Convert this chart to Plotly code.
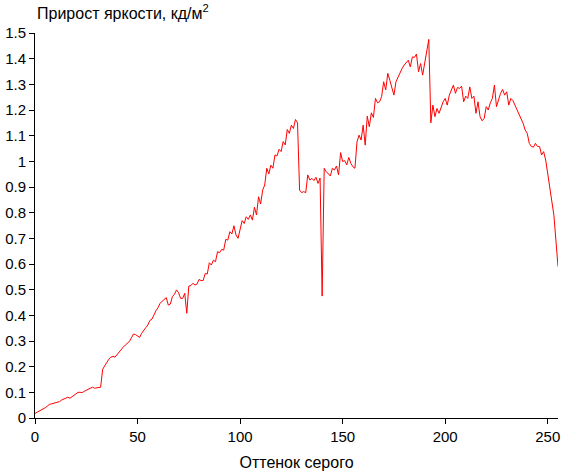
import plotly.graph_objects as go

gray_levels = list(range(256))
brightness_gain = [
    0.018, 0.022, 0.027, 0.031, 0.036, 0.040, 0.046, 0.053, 0.055, 0.057,
    0.060, 0.063, 0.064, 0.070, 0.074, 0.078, 0.081, 0.077, 0.083, 0.090,
    0.095, 0.100, 0.100, 0.099, 0.104, 0.108, 0.112, 0.116, 0.120, 0.116,
    0.117, 0.118, 0.120, 0.190, 0.205, 0.220, 0.229, 0.237, 0.240, 0.237,
    0.248, 0.258, 0.268, 0.276, 0.284, 0.292, 0.298, 0.312, 0.327, 0.325,
    0.320, 0.314, 0.330, 0.343, 0.352, 0.362, 0.380, 0.385, 0.405, 0.418,
    0.430, 0.447, 0.455, 0.462, 0.469, 0.440, 0.444, 0.473, 0.482, 0.499,
    0.488, 0.466, 0.466, 0.486, 0.408, 0.514, 0.516, 0.525, 0.518, 0.522,
    0.540, 0.535, 0.536, 0.563, 0.561, 0.605, 0.596, 0.615, 0.609, 0.648,
    0.644, 0.657, 0.654, 0.696, 0.693, 0.726, 0.717, 0.749, 0.713, 0.700,
    0.735, 0.769, 0.758, 0.784, 0.774, 0.791, 0.771, 0.821, 0.791, 0.862,
    0.834, 0.888, 0.908, 0.973, 0.951, 0.985, 0.973, 1.025, 1.021, 1.047,
    1.038, 1.077, 1.064, 1.124, 1.109, 1.141, 1.128, 1.163, 1.150, 0.888,
    0.878, 0.882, 0.878, 0.947, 0.927, 0.934, 0.925, 0.938, 0.914, 0.935,
    0.475, 0.973, 0.960, 0.953, 0.943, 0.973, 0.966, 0.982, 0.947, 1.034,
    0.999, 1.003, 0.986, 1.015, 0.992, 0.979, 0.973, 1.076, 1.102, 1.083,
    1.141, 1.063, 1.176, 1.135, 1.189, 1.171, 1.245, 1.228, 1.232, 1.252,
    1.310, 1.278, 1.343, 1.316, 1.290, 1.258, 1.310, 1.329, 1.343, 1.362,
    1.375, 1.384, 1.394, 1.368, 1.407, 1.405, 1.418, 1.349, 1.381, 1.336,
    1.381, 1.440, 1.475, 1.150, 1.219, 1.174, 1.206, 1.187, 1.210, 1.232,
    1.245, 1.219, 1.258, 1.280, 1.297, 1.265, 1.288, 1.284, 1.293, 1.232,
    1.254, 1.245, 1.290, 1.245, 1.254, 1.187, 1.232, 1.174, 1.158, 1.167,
    1.213, 1.200, 1.228, 1.245, 1.297, 1.213, 1.241, 1.265, 1.280, 1.258,
    1.271, 1.219, 1.245, 1.237, 1.219, 1.200, 1.187, 1.167, 1.148, 1.122,
    1.109, 1.070, 1.058, 1.055, 1.070, 1.058, 1.058, 1.025, 1.038, 1.005,
    0.955, 0.900, 0.845, 0.790, 0.690, 0.590,
]

x_tick_vals = [0, 50, 100, 150, 200, 250]
x_tick_text = ["0", "50", "100", "150", "200", "250"]
y_tick_vals = [0, 0.1, 0.2, 0.3, 0.4, 0.5, 0.6, 0.7, 0.8, 0.9, 1.0,
               1.1, 1.2, 1.3, 1.4, 1.5]
y_tick_text = ["0", "0.1", "0.2", "0.3", "0.4", "0.5", "0.6", "0.7", "0.8",
               "0.9", "1", "1.1", "1.2", "1.3", "1.4", "1.5"]

y_title = "Прирост яркости, кд/м<sup>2</sup>"
x_title = "Оттенок серого"

FONT = "Liberation Sans, Arial, sans-serif"

fig = go.Figure()
fig.add_trace(go.Scatter(
    x=gray_levels, y=brightness_gain, mode="lines",
    line=dict(color="#ff0000", width=1), showlegend=False,
    hoverinfo="skip",
))

fig.update_layout(
    width=561, height=471,
    margin=dict(l=35, r=3, t=33, b=53, autoexpand=False),
    paper_bgcolor="white", plot_bgcolor="white",
    font=dict(family=FONT, size=15, color="black"),
    xaxis=dict(
        range=[0, 255], showgrid=False, zeroline=False,
        showline=True, linecolor="black", linewidth=1,
        ticks="outside", ticklen=5, tickcolor="black", tickwidth=1,
        tickvals=x_tick_vals, ticktext=x_tick_text,
        tickfont=dict(size=15),
        title=dict(text=x_title, font=dict(size=16), standoff=12),
    ),
    yaxis=dict(
        range=[0, 1.5], showgrid=False, zeroline=False,
        showline=True, linecolor="black", linewidth=1,
        ticks="outside", ticklen=5, tickcolor="black", tickwidth=1,
        tickvals=y_tick_vals, ticktext=y_tick_text,
        tickfont=dict(size=15),
    ),
    annotations=[dict(
        text=y_title, xref="paper", yref="paper",
        x=0, y=1, xshift=0, yshift=21, xanchor="left", yanchor="middle",
        showarrow=False, font=dict(size=16, family=FONT),
    )],
)

fig.write_html(
    "out.html",
    config={"displayModeBar": False},
    post_script="document.body.style.margin='0';document.body.style.overflow='hidden';",
)
